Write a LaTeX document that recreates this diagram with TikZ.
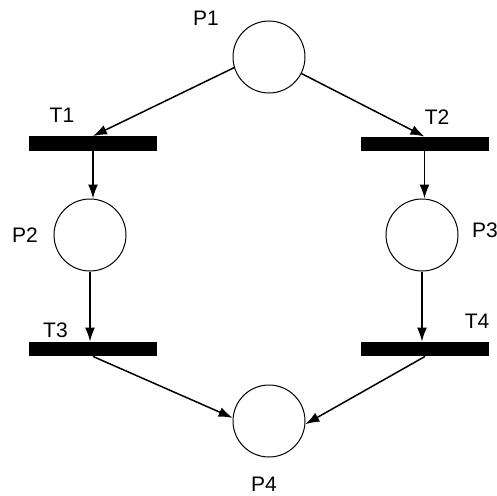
\documentclass[tikz,border=0pt]{standalone}
\usepackage{fontspec}
\setmainfont{Liberation Sans}
\usetikzlibrary{arrows.meta}
\tikzset{
  place/.style={circle, draw, line width=1pt, minimum size=72pt, inner sep=0pt},
  transition/.style={rectangle, fill=black, minimum width=128pt, minimum height=14.5pt, inner sep=0pt},
  arc/.style={line width=1.5pt, -{Latex[length=14pt,width=10pt]}},
  lbl/.style={inner sep=0pt, anchor=base, font=\fontsize{21}{24}\selectfont}
}
\begin{document}
\begin{tikzpicture}[x=1pt, y=-1pt]
  \useasboundingbox (0,0) rectangle (497,495);

  % places
  \node[place] (P1) at (269,57) {};
  \node[place] (P2) at (90,235) {};
  \node[place] (P3) at (422,235) {};
  \node[place] (P4) at (269,421) {};

  % transitions
  \node[transition] (T1) at (93,143.5) {};
  \node[transition] (T2) at (424.5,144) {};
  \node[transition] (T3) at (93,349) {};
  \node[transition] (T4) at (425,349) {};

  % labels (placed by baseline)
  \node[lbl] (LP1) at (206,26) {P1};
  \node[lbl] (LT1) at (62,122) {T1};
  \node[lbl] (LT2) at (437,124) {T2};
  \node[lbl] (LP2) at (25,242) {P2};
  \node[lbl, anchor=base west] (LP3) at (472,237) {P3};
  \node[lbl] (LT3) at (55.5,337) {T3};
  \node[lbl] (LT4) at (477,328) {T4};
  \node[lbl] (LP4) at (264,491) {P4};

  % arcs
  \draw[arc] (P1.197) -- (T1.north);
  \draw[arc] (P1.-27) -- (T2.north);
  \draw[arc] (T1.south) -- (T1.south |- P2.north);
  \draw[arc] (T2.south) -- (T2.south |- P3.north);
  \draw[arc] (P2.south) -- (P2.south |- T3.north);
  \draw[arc] (P3.south) -- (P3.south |- T4.north);
  \draw[arc] (T3.south) -- (P4.175);
  \draw[arc] (T4.south) -- (P4.-5);
\end{tikzpicture}
\end{document}
